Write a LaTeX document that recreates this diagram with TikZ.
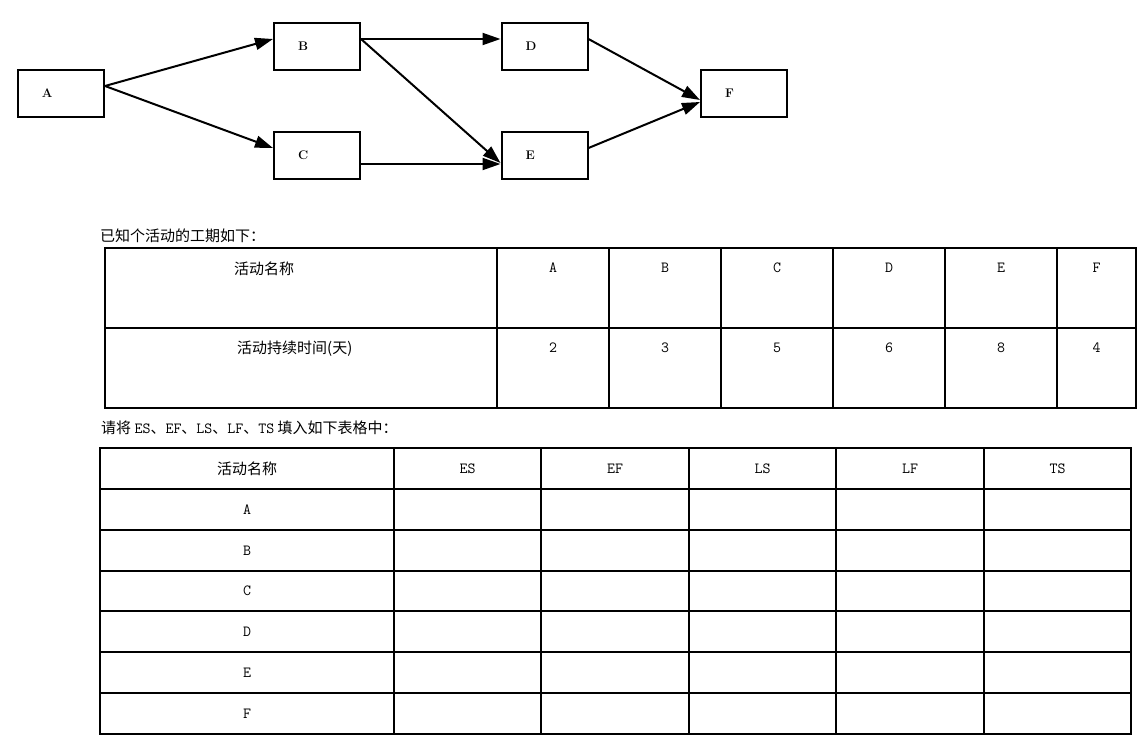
\documentclass[tikz,border=0pt]{standalone}
\usepackage{fontspec}
\usetikzlibrary{arrows.meta}
\newfontfamily\cjk{Noto Sans CJK SC}
\newcommand{\latx}[1]{{\ttfamily\fontsize{15.5}{15.5}\selectfont #1}}
\begin{document}
\begin{tikzpicture}[x=1pt,y=-1pt,
  box/.style={draw, line width=2pt, minimum width=86pt, minimum height=47pt, inner sep=0pt,
    text width=86pt, align=left, font=\bfseries\fontsize{12.5}{13}\selectfont},
  arr/.style={-{Triangle[length=18pt,width=12pt]}, line width=2pt},
  cj/.style={font=\cjk\fontsize{15}{15}\selectfont, inner sep=0pt},
  lt/.style={font=\ttfamily\fontsize{15.5}{15.5}\selectfont, inner sep=0pt},
  tline/.style={line width=1.2pt}]
\useasboundingbox[fill=white] (0,0) rectangle (1143,741);

% network
\node[box] (A) at (61,93.5) {\hspace*{24pt}A};
\node[box] (B) at (317,46.5) {\hspace*{24pt}B};
\node[box] (C) at (317,155.5) {\hspace*{24pt}C};
\node[box] (D) at (544.5,46.5) {\hspace*{24pt}D};
\node[box] (E) at (544.5,155.5) {\hspace*{24pt}E};
\node[box] (F) at (744,93.5) {\hspace*{24pt}F};

\draw[arr] ([yshift=7.5pt]A.east) -- ([yshift=7.5pt]B.west);
\draw[arr] ([yshift=7.5pt]A.east) -- ([yshift=7.5pt]C.west);
\draw[arr] ([yshift=7.5pt]B.east) -- ([yshift=7.5pt]D.west);
\draw[arr] ([yshift=7.5pt]B.east) -- ([yshift=-7.5pt]E.west);
\draw[arr] ([yshift=-8.5pt]C.east) -- ([yshift=-8.5pt]E.west);
\draw[arr] ([yshift=7.5pt]D.east) -- ([yshift=-6.5pt]F.west);
\draw[arr] ([yshift=7.5pt]E.east) -- ([yshift=-8.5pt]F.west);

% first table
\node[cj, anchor=west] (t1) at (100,236) {已知个活动的工期如下：};
\draw[tline] (105,248) rectangle (1136,408);
\draw[tline] (105,328) -- (1136,328);
\foreach \x in {497,609,721,833,945,1057} \draw[tline] (\x,248) -- (\x,408);
\node[cj, anchor=west] (h1) at (234,269) {活动名称};
\node[cj, anchor=west] (h2) at (237,349) {活动持续时间(天)};
\foreach \x/\n/\d in {553/A/2,665/B/3,777/C/5,889/D/6,1001/E/8,1096.5/F/4} {
  \node[lt] (n\n) at (\x,268) {\n};
  \node[lt] (d\n) at (\x,348) {\d};
}

% second table
\node[cj, anchor=west] (t2) at (101,428) {请将 \latx{ES}、\latx{EF}、\latx{LS}、\latx{LF}、\latx{TS} 填入如下表格中：};
\draw[tline] (100,448) rectangle (1131,734);
\foreach \y in {489,530,571,611,652,693} \draw[tline] (100,\y) -- (1131,\y);
\foreach \x in {394,541,689,836,984} \draw[tline] (\x,448) -- (\x,734);
\node[cj] (g0) at (247,469) {活动名称};
\foreach \x/\h in {467.5/ES,615/EF,762.5/LS,910/LF,1057.5/TS}
  \node[lt] (g\h) at (\x,468.5) {\h};
\foreach \y/\n in {509.5/A,550.5/B,591/C,631.5/D,672.5/E,713.5/F}
  \node[lt] (r\n) at (247,\y) {\n};
\end{tikzpicture}
\end{document}
